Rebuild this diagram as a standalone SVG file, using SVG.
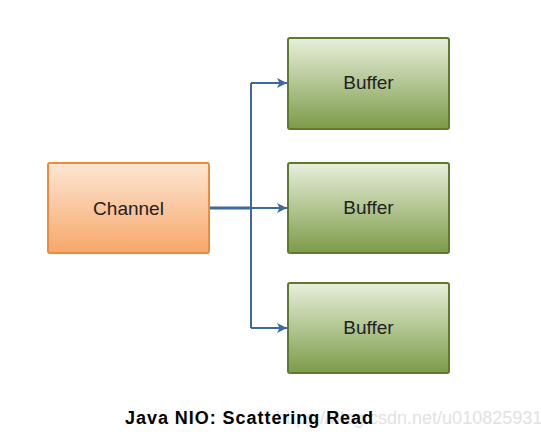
<svg xmlns="http://www.w3.org/2000/svg" width="541" height="440" viewBox="0 0 541 440">
<defs>
<linearGradient id="gOrange" x1="0" y1="0" x2="0" y2="1">
<stop offset="0" stop-color="#fde6d4"/>
<stop offset="1" stop-color="#f7a76a"/>
</linearGradient>
<linearGradient id="gGreen" x1="0" y1="0" x2="0" y2="1">
<stop offset="0" stop-color="#e8efdb"/>
<stop offset="1" stop-color="#7c9b48"/>
</linearGradient>
<marker id="arr" viewBox="0 0 10 10" refX="10" refY="5" markerWidth="10" markerHeight="10" markerUnits="userSpaceOnUse" orient="auto">
<path d="M0,0 L10,5 L0,10 L2.5,5 Z" fill="#3d6a9e"/>
</marker>
<style>
.ch{fill:url(#gOrange);stroke:#f08a38;stroke-width:2}
.bf{fill:url(#gGreen);stroke:#5d7a2e;stroke-width:2}
.lbl{font-family:"Liberation Sans",Arial,sans-serif;font-size:19px;fill:#222;text-anchor:middle;dominant-baseline:central}
.ln{fill:none;stroke:#3d6a9e;stroke-width:2}
</style>
</defs>
<rect width="541" height="440" fill="#fff"/>
<g id="connectors">
<path class="ln" d="M251,83 V328"/>
<path class="ln" d="M251,83 H287" marker-end="url(#arr)"/>
<path class="ln" d="M251,328 H287" marker-end="url(#arr)"/>
<path class="ln" d="M209,208 H251" style="stroke-width:3"/>
<path class="ln" d="M251,208 H287" marker-end="url(#arr)"/>
</g>
<g id="channel">
<rect class="ch" x="48" y="163" width="161" height="90" rx="2"/>
<text class="lbl" x="128.5" y="208">Channel</text>
</g>
<g id="buffer1">
<rect class="bf" x="288" y="38" width="161" height="91" rx="2"/>
<text class="lbl" x="368.5" y="82">Buffer</text>
</g>
<g id="buffer2">
<rect class="bf" x="288" y="163" width="161" height="90" rx="2"/>
<text class="lbl" x="368.5" y="207">Buffer</text>
</g>
<g id="buffer3">
<rect class="bf" x="288" y="283" width="161" height="90" rx="2"/>
<text class="lbl" x="368.5" y="327">Buffer</text>
</g>
<text x="276" y="424" font-family="Liberation Sans,Arial,sans-serif" font-size="18" fill="#e2e2e2">https://blog.csdn.net/u010825931</text>
<text x="125" y="424" font-family="Liberation Sans,Arial,sans-serif" font-size="18" font-weight="bold" fill="#000" textLength="248" lengthAdjust="spacing">Java NIO: Scattering Read</text>
</svg>
